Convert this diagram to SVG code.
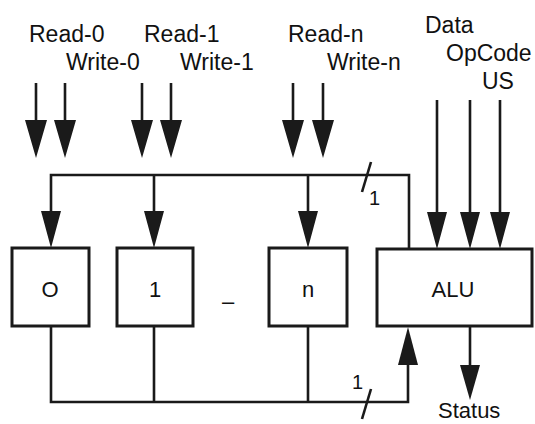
<svg xmlns="http://www.w3.org/2000/svg" width="535" height="424" viewBox="0 0 535 424">
<defs>
<style>
.t{font-family:"Liberation Sans",Arial,sans-serif;font-size:22px;fill:#111}
.l{font-family:"Liberation Sans",Arial,sans-serif;font-size:23px;fill:#111}
.s{font-family:"Liberation Sans",Arial,sans-serif;font-size:20px;fill:#111}
.box{fill:#fff;stroke:#1a1a1a;stroke-width:3}
.w{fill:none;stroke:#1a1a1a;stroke-width:2.6}
.ah{fill:#1a1a1a}
</style>
</defs>
<rect width="535" height="424" fill="#fff"/>
<g id="labels">
<text class="l" x="29" y="42">Read-0</text>
<text class="l" x="66" y="70">Write-0</text>
<text class="l" x="144" y="42">Read-1</text>
<text class="l" x="180" y="70">Write-1</text>
<text class="l" x="288" y="42">Read-n</text>
<text class="l" x="327" y="70">Write-n</text>
<text class="l" x="425" y="33">Data</text>
<text class="l" x="446" y="61">OpCode</text>
<text class="l" x="482" y="89">US</text>
<text class="t" x="438" y="418">Status</text>
</g>
<g id="connectors">
<path class="w" d="M36 83V125M65 83V125M142 83V125M171 83V125M293 83V125M323 83V125"/>
<path class="ah" d="M25 120H47L36 158Z M54 120H76L65 158Z M131 120H153L142 158Z M160 120H182L171 158Z M282 120H304L293 158Z M312 120H334L323 158Z"/>
<path class="w" d="M51 215V175H409V249M154 175V215M308 175V215"/>
<path class="ah" d="M41 211H61L51 248Z M144 211H164L154 248Z M298 211H318L308 248Z"/>
<line class="w" x1="371" y1="162" x2="362" y2="192" stroke-width="3"/>
<text class="s" x="369" y="205">1</text>
<path class="w" d="M437 100V215M470 100V215M500 100V215"/>
<path class="ah" d="M427 212H447L437 249Z M460 212H480L470 249Z M490 212H510L500 249Z"/>
<path class="w" d="M51 326V402H408V362M154 326V402M308 326V402"/>
<path class="ah" d="M398 365H418L408 327Z"/>
<line class="w" x1="371" y1="389" x2="362" y2="419" stroke-width="3"/>
<text class="s" x="352" y="389">1</text>
<path class="w" d="M470 326V368"/>
<path class="ah" d="M460 365H480L470 400Z"/>
</g>
<g id="reg0"><rect class="box" x="12" y="248" width="77" height="78"/><text class="t" x="50" y="297" text-anchor="middle">O</text></g>
<g id="reg1"><rect class="box" x="117" y="248" width="76" height="78"/><text class="t" x="155" y="297" text-anchor="middle">1</text></g>
<text class="t" x="228" y="309" text-anchor="middle">–</text>
<g id="regn"><rect class="box" x="269" y="248" width="78" height="78"/><text class="t" x="308" y="297" text-anchor="middle">n</text></g>
<g id="alu"><rect class="box" x="377" y="249" width="155" height="77"/><text class="t" x="453" y="297" text-anchor="middle">ALU</text></g>
</svg>
